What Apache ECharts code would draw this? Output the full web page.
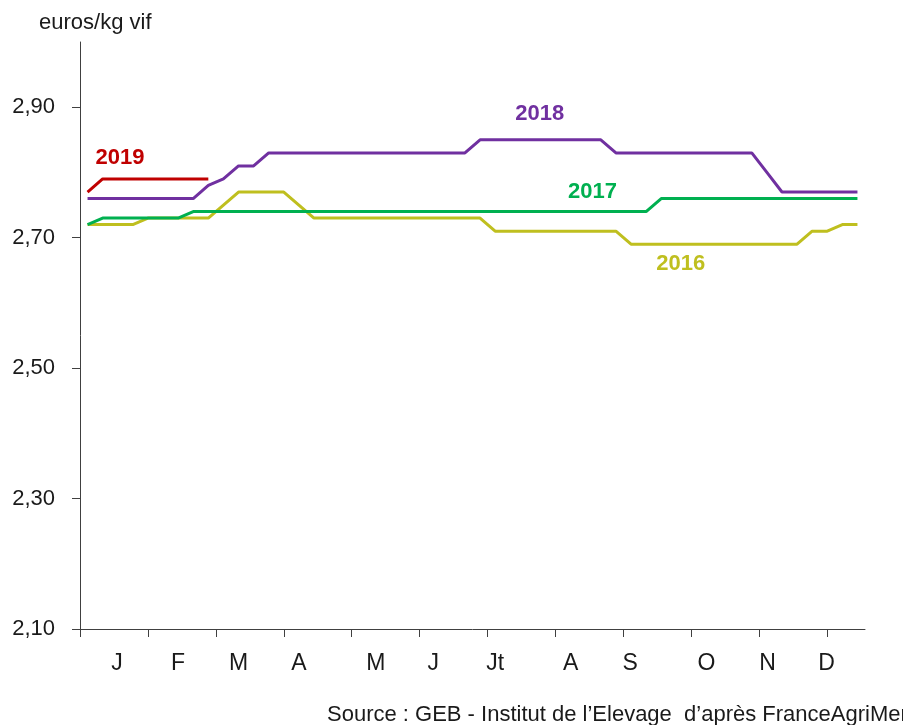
<!DOCTYPE html>
<html>
<head>
<meta charset="utf-8">
<script src="https://cdn.jsdelivr.net/npm/echarts@6/dist/echarts.min.js"></script>
<style>
  html, body { margin: 0; padding: 0; background: #fff; }
  #chart { width: 903px; height: 725px; }
</style>
</head>
<body>
<div id="chart"></div>
<script>
// weekly prices, euros/kg vif (one value per week)
const price2016 = [2.72, 2.72, 2.72, 2.72, 2.73, 2.73, 2.73, 2.73, 2.73, 2.75, 2.77, 2.77, 2.77, 2.77,
  2.75, 2.73, 2.73, 2.73, 2.73, 2.73, 2.73, 2.73, 2.73, 2.73, 2.73, 2.73, 2.73, 2.71, 2.71, 2.71,
  2.71, 2.71, 2.71, 2.71, 2.71, 2.71, 2.69, 2.69, 2.69, 2.69, 2.69, 2.69, 2.69, 2.69, 2.69, 2.69,
  2.69, 2.69, 2.71, 2.71, 2.72, 2.72];
const price2017 = [2.72, 2.73, 2.73, 2.73, 2.73, 2.73, 2.73, 2.74, 2.74, 2.74, 2.74, 2.74, 2.74, 2.74,
  2.74, 2.74, 2.74, 2.74, 2.74, 2.74, 2.74, 2.74, 2.74, 2.74, 2.74, 2.74, 2.74, 2.74, 2.74, 2.74,
  2.74, 2.74, 2.74, 2.74, 2.74, 2.74, 2.74, 2.74, 2.76, 2.76, 2.76, 2.76, 2.76, 2.76, 2.76, 2.76,
  2.76, 2.76, 2.76, 2.76, 2.76, 2.76];
const price2018 = [2.76, 2.76, 2.76, 2.76, 2.76, 2.76, 2.76, 2.76, 2.78, 2.79, 2.81, 2.81, 2.83, 2.83,
  2.83, 2.83, 2.83, 2.83, 2.83, 2.83, 2.83, 2.83, 2.83, 2.83, 2.83, 2.83, 2.85, 2.85, 2.85, 2.85,
  2.85, 2.85, 2.85, 2.85, 2.85, 2.83, 2.83, 2.83, 2.83, 2.83, 2.83, 2.83, 2.83, 2.83, 2.83, 2.80,
  2.77, 2.77, 2.77, 2.77, 2.77, 2.77];
const price2019 = [2.77, 2.79, 2.79, 2.79, 2.79, 2.79, 2.79, 2.79, 2.79];

// x axis in weeks: tick marks and month label positions
const monthTicks = [0, 4.5, 9, 13.5, 18, 22.5, 27, 31.5, 36, 40.5, 45, 49.5];
const monthLabels = ["J", "F", "M", "A", "M", "J", "Jt", "A", "S", "O", "N", "D"];
const monthLabelPos = [2.45, 6.5, 10.5, 14.5, 19.6, 23.4, 27.5, 32.5, 36.45, 41.5, 45.55, 49.45];
const yTicks = [2.1, 2.3, 2.5, 2.7, 2.9];

// year label anchors (week, price)
const yearLabels = {
  "2016": [39.8, 2.659],
  "2017": [33.95, 2.770],
  "2018": [30.45, 2.889],
  "2019": [2.65, 2.823],
};

const font = "'Liberation Sans', Arial, sans-serif";

const toPoints = (arr) => arr.map((v, i) => [i + 0.5, v]);

const makeSeries = (name, data, color) => ({
  name: name,
  type: "line",
  data: toPoints(data),
  symbol: "none",
  lineStyle: { color: color, width: 3 },
  itemStyle: { color: color },
  z: 2,
  markPoint: {
    symbol: "circle",
    symbolSize: 1,
    itemStyle: { color: "rgba(0,0,0,0)" },
    label: {
      show: true,
      position: "inside",
      formatter: name,
      color: color,
      fontFamily: font,
      fontWeight: "bold",
      fontSize: 22,
    },
    data: [{ coord: yearLabels[name] }],
  },
});

const chart = echarts.init(document.getElementById("chart"));

const option = {
  animation: false,
  backgroundColor: "#fff",
  title: [
    {
      text: "euros/kg vif",
      left: 34,
      top: 7,
      textStyle: { fontFamily: font, fontSize: 22, fontWeight: "normal", color: "#1a1a1a" },
    },
    {
      text: "Source : GEB - Institut de l\u2019Elevage  d\u2019après FranceAgriMer",
      left: 322,
      top: 699,
      textStyle: { fontFamily: font, fontSize: 22, fontWeight: "normal", color: "#1a1a1a" },
    },
  ],
  grid: { left: 80, right: 38, top: 42, bottom: 96 },
  xAxis: {
    type: "value",
    min: 0,
    max: 52,
    splitLine: { show: false },
    axisLine: { lineStyle: { color: "#404040", width: 1 } },
    axisTick: {
      show: true,
      customValues: monthTicks,
      length: 8,
      lineStyle: { color: "#404040" },
    },
    axisLabel: {
      customValues: monthLabelPos,
      margin: 23,
      fontFamily: font,
      fontSize: 23,
      color: "#1a1a1a",
      formatter: (v) => {
        let best = 0;
        monthLabelPos.forEach((p, i) => {
          if (Math.abs(p - v) < Math.abs(monthLabelPos[best] - v)) best = i;
        });
        return monthLabels[best];
      },
    },
  },
  yAxis: {
    type: "value",
    min: 2.1,
    max: 3.0,
    splitLine: { show: false },
    axisLine: { show: true, lineStyle: { color: "#404040", width: 1 } },
    axisTick: {
      show: true,
      customValues: yTicks,
      length: 8,
      lineStyle: { color: "#404040" },
    },
    axisLabel: {
      customValues: yTicks,
      margin: 25,
      fontFamily: font,
      fontSize: 22,
      color: "#1a1a1a",
      formatter: (v) => v.toFixed(2).replace(".", ","),
    },
  },
  series: [
    makeSeries("2016", price2016, "#bfbf1f"),
    makeSeries("2017", price2017, "#00b050"),
    makeSeries("2018", price2018, "#7030a0"),
    makeSeries("2019", price2019, "#c00000"),
  ],
};

chart.setOption(option);
</script>
</body>
</html>
